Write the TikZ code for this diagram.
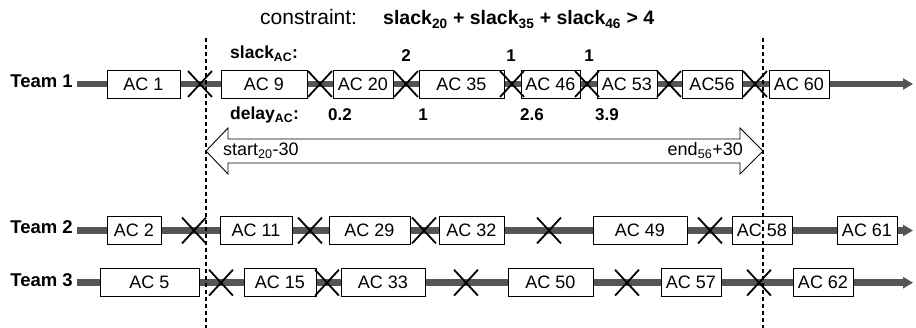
\documentclass[tikz,border=0pt]{standalone}
\usepackage{fontspec}
\setmainfont{Liberation Sans}
\usetikzlibrary{arrows.meta,shapes.misc}

\definecolor{trackgray}{HTML}{555555}

\newcommand{\fs}[1]{\fontsize{#1}{#1}\selectfont}
% box of an aircraft on a track: name, left x, right x, y, text
\newcommand{\acbox}[5]{%
  \node[acbox, minimum width={(#3-#2)*1pt}] (#1) at ({(#2+#3)/2},#4) {#5};}
% swap (cross) mark between two boxes: name, x, y
\newcommand{\swapmark}[3]{\node[swapx] (#1) at (#2,#3) {};}

\begin{document}
\begin{tikzpicture}[x=1pt,y=-1pt,
  track/.style={line width=6.6pt, draw=trackgray,
    -{Triangle[length=10pt,width=11pt]}},
  acbox/.style={draw=black, line width=0.9pt, fill=white,
    minimum height=28pt, inner sep=0pt, font=\fs{18}},
  swapx/.style={cross out, draw=black, line width=1.8pt,
    minimum width=22pt, minimum height=24pt, inner sep=0pt},
  teamlabel/.style={font=\fs{18.5}\bfseries, anchor=base east, inner sep=0pt},
  numlabel/.style={font=\fs{17}\bfseries, anchor=base, inner sep=0pt},
  rowlabel/.style={font=\fs{17.5}\bfseries, anchor=base west, inner sep=0pt},
  windowline/.style={draw=black, line width=1.2pt, dash pattern=on 4pt off 3pt},
  window/.style={draw=black, line width=0.9pt, fill=white},
  windowtext/.style={font=\fs{18}, inner sep=0pt},
]
\useasboundingbox (0,0) rectangle (916,328);

% constraint headline
\node[font=\fs{21}, anchor=base west, inner sep=0pt] (cons) at (260,25) {constraint:};
\node[font=\fs{19.5}\bfseries, anchor=base west, inner sep=0pt] (expr) at (383,25)
  {slack\textsubscript{20} + slack\textsubscript{35} + slack\textsubscript{46} > 4};

% team labels
\node[teamlabel] (team1) at (73,87.5) {Team 1};
\node[teamlabel] (team2) at (73,234) {Team 2};
\node[teamlabel] (team3) at (73,286.5) {Team 3};

% tracks
\coordinate (r1s) at (77,84);    \coordinate (r1e) at (913,84);
\coordinate (r2s) at (77,230.5); \coordinate (r2e) at (913,230.5);
\coordinate (r3s) at (77,282.7); \coordinate (r3e) at (913,282.7);
\draw[track] (r1s) -- (r1e);
\draw[track] (r2s) -- (r2e);
\draw[track] (r3s) -- (r3e);

% team 1
\acbox{ac1}{107}{180}{84}{AC 1}
\acbox{ac9}{221}{307}{84}{AC 9}
\acbox{ac20}{333}{393}{84}{AC 20}
\acbox{ac35}{419}{504}{84}{AC 35}
\acbox{ac46}{521}{580}{84}{AC 46}
\acbox{ac53}{597}{657}{84}{AC 53}
\acbox{ac56}{682}{742}{84}{AC56}
\acbox{ac60}{769}{829}{84}{AC 60}
\swapmark{xa1}{200}{84}
\swapmark{xa2}{320}{84}
\swapmark{xa3}{406}{84}
\swapmark{xa4}{512}{84}
\swapmark{xa5}{587}{84}
\swapmark{xa6}{669}{84}
\swapmark{xa7}{755}{84}

% team 2
\acbox{ac2}{107}{161}{230.5}{AC 2}
\acbox{ac11}{220}{292}{230.5}{AC 11}
\acbox{ac29}{329}{410}{230.5}{AC 29}
\acbox{ac32}{439}{504}{230.5}{AC 32}
\acbox{ac49}{593}{687}{230.5}{AC 49}
\acbox{ac58}{732}{792}{230.5}{AC 58}
\acbox{ac61}{837}{897}{230.5}{AC 61}
\swapmark{xb1}{194}{230.5}
\swapmark{xb2}{310}{230.5}
\swapmark{xb3}{424}{230.5}
\swapmark{xb4}{549}{230.5}
\swapmark{xb5}{710}{230.5}

% team 3
\acbox{ac5}{100}{199}{282.7}{AC 5}
\acbox{ac15}{244}{316}{282.7}{AC 15}
\acbox{ac33}{341}{425}{282.7}{AC 33}
\acbox{ac50}{508}{593}{282.7}{AC 50}
\acbox{ac57}{661}{721}{282.7}{AC 57}
\acbox{ac62}{793}{853}{282.7}{AC 62}
\swapmark{xc1}{221}{282.7}
\swapmark{xc2}{327}{282.7}
\swapmark{xc3}{466}{282.7}
\swapmark{xc4}{627}{282.7}
\swapmark{xc5}{759}{282.7}

% slack and delay values
\node[rowlabel] (slacklbl) at (230,59) {slack\textsubscript{AC}:};
\node[numlabel] (s20) at (406,61.5) {2};
\node[numlabel] (s35) at (511,61.5) {1};
\node[numlabel] (s46) at (589,61.5) {1};
\node[rowlabel] (delaylbl) at (230,120) {delay\textsubscript{AC}:};
\node[numlabel] (d20) at (340,121) {0.2};
\node[numlabel] (d35) at (423,121) {1};
\node[numlabel] (d46) at (532,121) {2.6};
\node[numlabel] (d53) at (607,121) {3.9};

% time window arrow
\draw[window] (206,151) -- (228,128) -- (228,139) -- (740,139) -- (740,128)
  -- (763,151) -- (740,174) -- (740,163) -- (228,163) -- (228,174) -- cycle;
\node[windowtext, anchor=base west] (wstart) at (223,155.5) {start\textsubscript{20}-30};
\node[windowtext, anchor=base east] (wend) at (743,155.5) {end\textsubscript{56}+30};

% window bounds
\coordinate (wl1) at (206,38); \coordinate (wl2) at (206,328);
\coordinate (wr1) at (763,38); \coordinate (wr2) at (763,328);
\draw[windowline] (wl1) -- (wl2);
\draw[windowline] (wr1) -- (wr2);
\end{tikzpicture}
\end{document}
